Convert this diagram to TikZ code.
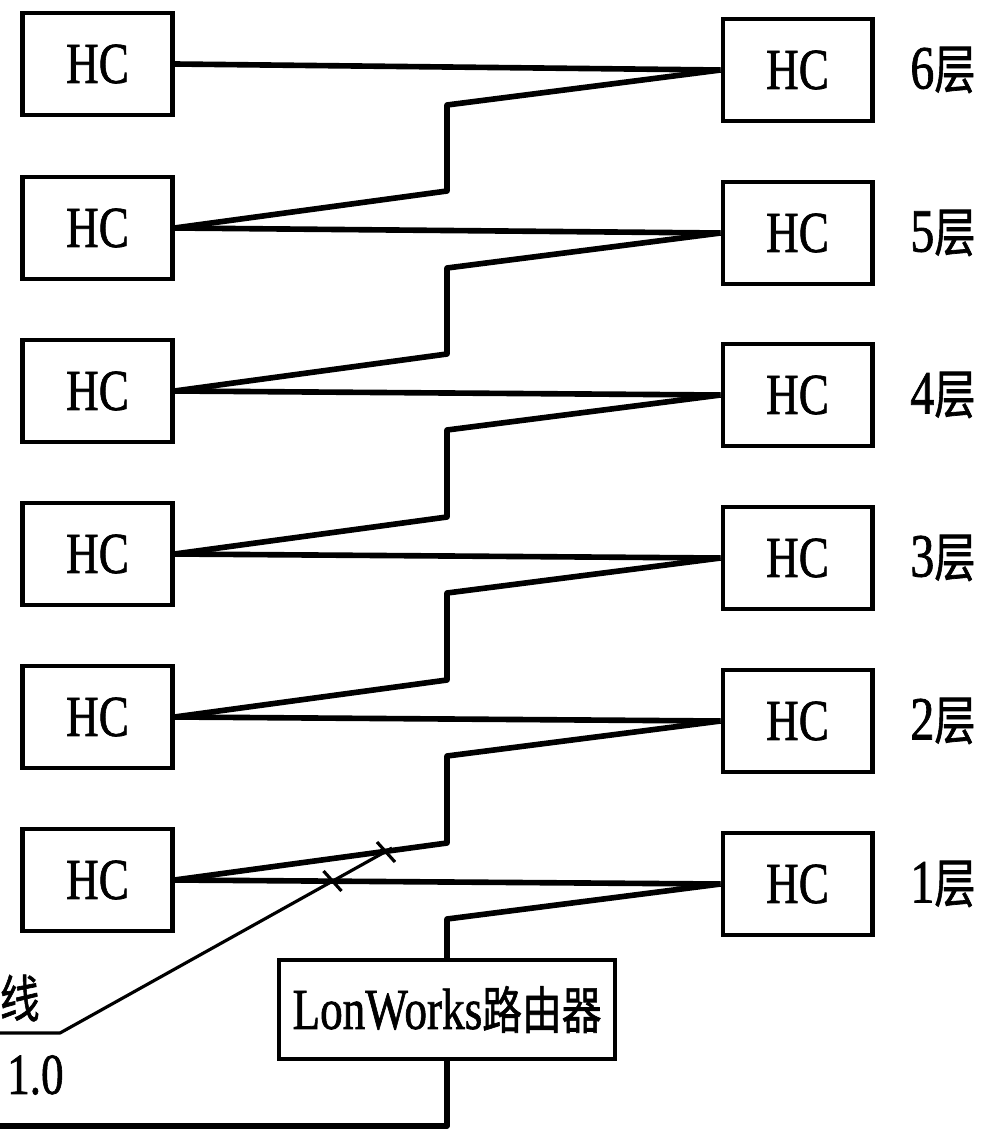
\documentclass[tikz,border=0pt]{standalone}
\usepackage{fontspec}
\setmainfont{Liberation Serif}
\newfontfamily\cjk{Noto Sans CJK SC}
\usepackage{graphicx}
\usetikzlibrary{calc, positioning}
\newcommand{\dam}{\addfontfeature{FakeBold=1.3}}
\newcommand{\zhai}[1]{\scalebox{0.78}[1]{#1}}
\newcommand{\ceng}[1]{\zhai{#1{\cjk\fontsize{30}{30}\selectfont\dam 层}}}

\begin{document}
\begin{tikzpicture}[x=0.02cm, y=-0.02cm,
    hc/.style={draw, line width=2.3pt, minimum width=3cm, minimum height=2.04cm,
        inner sep=0pt, font=\fontsize{33}{33}\selectfont\dam},
    lab/.style={anchor=west, inner sep=0pt, font=\fontsize{35}{35}\selectfont\dam},
    bus/.style={line width=3.2pt, line join=round},
    fine/.style={line width=1.8pt, line join=round}]
        \useasboundingbox (0,0) rectangle (987,1129);

        % Các hộp HC cột trái
        \node[hc] (L6) at (97.5,64) {\zhai{HC}};
        \node[hc] (L5) at (97.5,228) {\zhai{HC}};
        \node[hc] (L4) at (97.5,391) {\zhai{HC}};
        \node[hc] (L3) at (97.5,554) {\zhai{HC}};
        \node[hc] (L2) at (97.5,717) {\zhai{HC}};
        \node[hc] (L1) at (97.5,880) {\zhai{HC}};

        % Các hộp HC cột phải
        \node[hc] (R6) at (797.5,70) {\zhai{HC}};
        \node[hc] (R5) at (797.5,233) {\zhai{HC}};
        \node[hc] (R4) at (797.5,395) {\zhai{HC}};
        \node[hc] (R3) at (797.5,558) {\zhai{HC}};
        \node[hc] (R2) at (797.5,721) {\zhai{HC}};
        \node[hc] (R1) at (797.5,884) {\zhai{HC}};

        % Nhãn tầng
        \node[lab] (F6) at (910,70) {\ceng{6}};
        \node[lab] (F5) at (910,233) {\ceng{5}};
        \node[lab] (F4) at (910,395) {\ceng{4}};
        \node[lab] (F3) at (910,558) {\ceng{3}};
        \node[lab] (F2) at (910,721) {\ceng{2}};
        \node[lab] (F1) at (910,884) {\ceng{1}};

        % Bộ định tuyến LonWorks
        \node[hc, minimum width=6.72cm, minimum height=1.98cm] (LW) at (447,1009.5)
            {\zhai{LonWorks{\cjk\fontsize{29}{29}\selectfont\dam 路由器}}};

        % Các điểm gấp khúc (x = 447)
        \coordinate (J6a) at (447,105); \coordinate (J6b) at (447,191);
        \coordinate (J5a) at (447,268); \coordinate (J5b) at (447,354);
        \coordinate (J4a) at (447,430); \coordinate (J4b) at (447,517);
        \coordinate (J3a) at (447,593); \coordinate (J3b) at (447,680);
        \coordinate (J2a) at (447,756); \coordinate (J2b) at (447,843);
        \coordinate (J1a) at (447,919);
        \coordinate (B0) at (0,1126);
        \coordinate (B1) at (447,1126);

        % Nối cùng tầng
        \draw[bus] (L6.east) -- (R6.west);
        \draw[bus] (L5.east) -- (R5.west);
        \draw[bus] (L4.east) -- (R4.west);
        \draw[bus] (L3.east) -- (R3.west);
        \draw[bus] (L2.east) -- (R2.west);
        \draw[bus] (L1.east) -- (R1.west);

        % Nối xuống tầng dưới
        \draw[bus] (R6.west) -- (J6a) -- (J6b) -- (L5.east);
        \draw[bus] (R5.west) -- (J5a) -- (J5b) -- (L4.east);
        \draw[bus] (R4.west) -- (J4a) -- (J4b) -- (L3.east);
        \draw[bus] (R3.west) -- (J3a) -- (J3b) -- (L2.east);
        \draw[bus] (R2.west) -- (J2a) -- (J2b) -- (L1.east);
        \draw[bus] (R1.west) -- (J1a) -- (LW.north);
        \draw[bus] (B0) -- (B1) -- (LW.south);

        % Chú thích dây
        \node[anchor=east, inner sep=0pt] (T1) at (40,998) {\zhai{\cjk\fontsize{29}{29}\selectfont\dam 线}};
        \node[anchor=east, inner sep=0pt, font=\fontsize{33}{33}\selectfont\dam] (T2) at (64,1075) {\zhai{1.0}};
        \coordinate (U0) at (0,1033);
        \coordinate (U1) at (60,1033);
        \coordinate (U2) at (392,848);
        \draw[fine] (U0) -- (U1) -- (U2);

        % Vạch đánh dấu trên dây
        \coordinate (K1) at (386,852);
        \coordinate (K2) at (332.5,881);
        \draw[fine] ($(K1)+(-9,-10)$) -- ($(K1)+(9,10)$);
        \draw[fine] ($(K2)+(-9,-10)$) -- ($(K2)+(9,10)$);

    \end{tikzpicture}
\end{document}
